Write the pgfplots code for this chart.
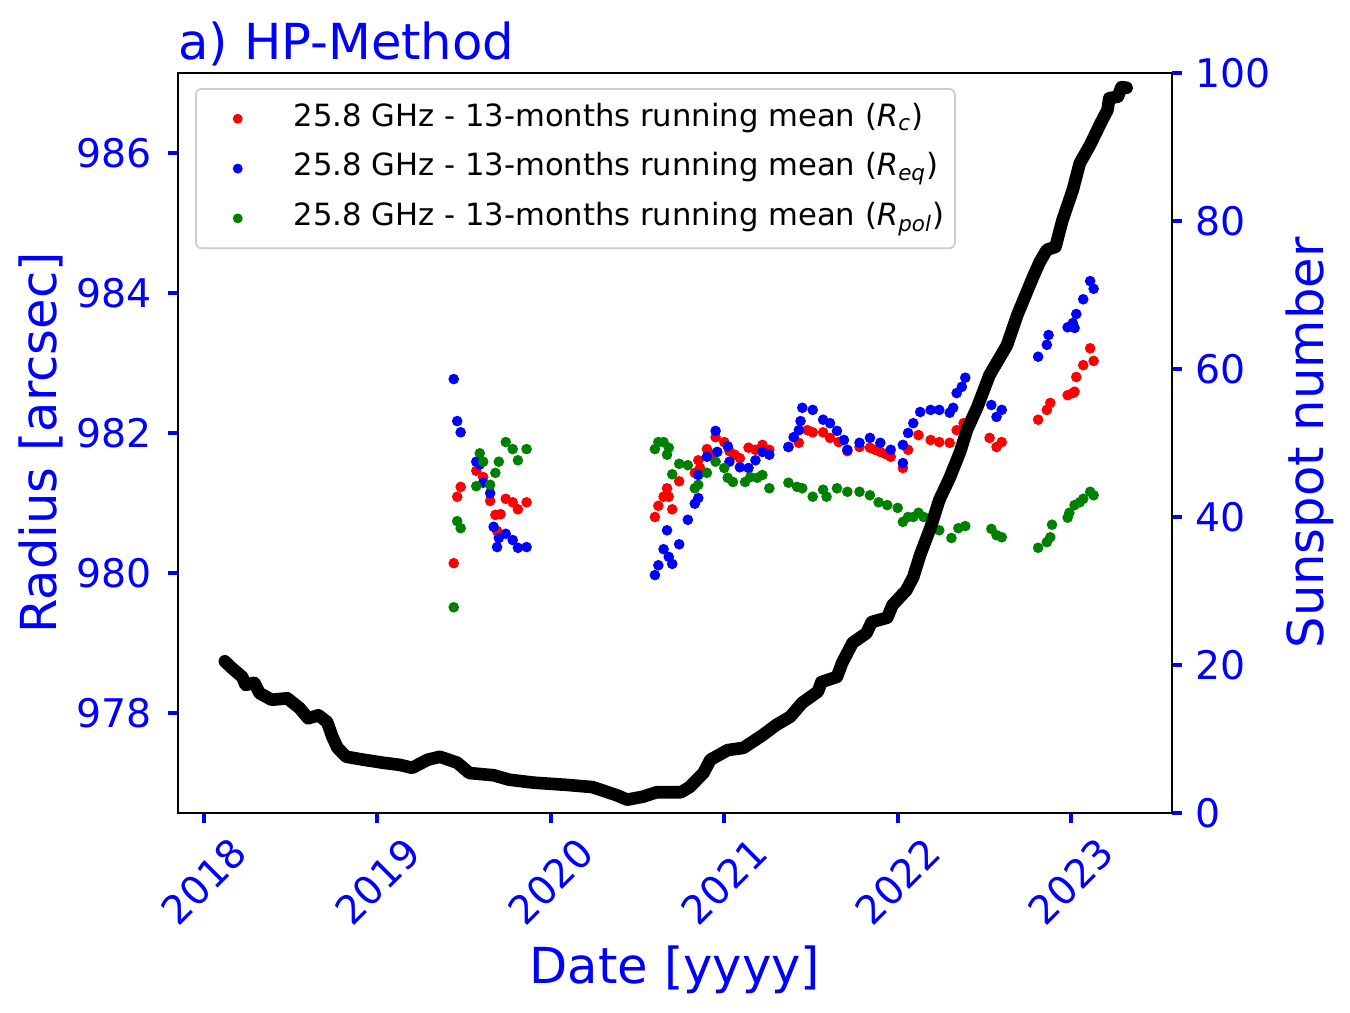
\documentclass[border=0pt]{standalone}
\usepackage{fontspec}
\setmainfont{DejaVu Sans}
\usepackage{pgfplots}
\pgfplotsset{compat=1.18}
\definecolor{mgreen}{HTML}{008000}
\definecolor{mred}{HTML}{FF0000}
\definecolor{mblue}{HTML}{0000FF}
\begin{document}
\begin{tikzpicture}
\pgfplotsset{
  common/.style={
    width=339.29bp, height=252.59bp, scale only axis,
    xmin=2017.85, xmax=2023.582,
    tick align=outside,
    major tick length=3.4bp,
    every tick/.style={mblue, line width=1.4bp},
    ticklabel style={text=mblue, font=\fontsize{13.5}{16}\selectfont},
    /pgf/number format/assume math mode=true,
    axis line style={line width=0.9bp, black},
    label style={text=mblue, font=\fontsize{17}{20}\selectfont},
  }
}
\begin{axis}[common, name=ax,
  ymin=976.571, ymax=987.143,
  xtick={2018,2019,2020,2021,2022,2023},
  xticklabels={2018,2019,2020,2021,2022,2023},
  ytick={978,980,982,984,986},
  xtick pos=bottom, ytick pos=left,
  xticklabel style={yshift=-20bp, rotate=45, anchor=center},
  yticklabel style={anchor=east, inner sep=0pt, xshift=-5.5bp},
  xlabel={Date [yyyy]},
  ylabel={Radius [arcsec]},
  xlabel style={at={(axis description cs:0.5,-0.245)}, anchor=south, inner sep=0pt},
  ylabel style={at={(axis description cs:-0.1147,0.5)}, anchor=south, inner sep=0pt},
  title={a) HP-Method},
  title style={at={(axis description cs:0,0.9945)}, anchor=base west, inner sep=0pt, text=mblue, font=\fontsize{17}{20}\selectfont},
  legend style={at={(axis description cs:0.0171,0.9797)}, anchor=north west,
    draw=black!20, line width=0.6bp, rounded corners=2bp, fill=white,
    font=\fontsize{10.5}{12}\selectfont, text=black,
    inner xsep=3.6bp, inner ysep=5.2bp, row sep=7bp, column sep=5.4bp,
    nodes={inner sep=0pt, text height=7.5bp, text depth=2.5bp, anchor=west}},
  legend cell align=left,
]
\addplot[mred, only marks, mark=*, mark size=1.6bp, mark options={solid, fill=mred, draw=mred},
  legend image code/.code={\path[draw=none, fill=none] (0,-2bp) rectangle (24.4bp,2bp); \fill[mred] (10.7bp,0) circle (1.37bp);}]
coordinates {
(2019.44,980.14) (2019.46,981.09) (2019.48,981.23) (2019.57,981.46) (2019.61,981.37)
(2019.65,981.03) (2019.68,980.83) (2019.71,980.84) (2019.69,980.60) (2019.74,981.06)
(2019.78,981.01) (2019.81,980.91) (2019.86,981.01)
(2020.60,980.80) (2020.62,980.96) (2020.65,981.09) (2020.67,981.21) (2020.68,981.09)
(2020.70,980.91) (2020.74,981.31) (2020.83,981.43) (2020.85,981.61) (2020.86,981.50)
(2020.90,981.77) (2020.93,981.69) (2020.95,981.94) (2021.00,981.87) (2021.03,981.74)
(2021.06,981.69) (2021.09,981.64) (2021.14,981.79) (2021.18,981.76) (2021.22,981.83)
(2021.26,981.76)
(2021.37,981.80) (2021.43,981.86) (2021.48,982.04) (2021.51,982.01) (2021.57,982.01)
(2021.61,981.93) (2021.66,981.87) (2021.71,981.74) (2021.78,981.80) (2021.84,981.79)
(2021.87,981.76) (2021.90,981.73) (2021.93,981.70) (2021.96,981.66) (2022.03,981.50)
(2022.06,981.76) (2022.12,981.97) (2022.19,981.90) (2022.24,981.87) (2022.30,981.86)
(2022.34,982.04) (2022.38,982.14)
(2022.53,981.93) (2022.57,981.80) (2022.60,981.87)
(2022.81,982.19) (2022.86,982.33) (2022.88,982.43)
(2022.98,982.54) (2023.01,982.57) (2023.02,982.59) (2023.03,982.80) (2023.07,982.97)
(2023.11,983.21) (2023.13,983.03)
};
\addlegendentry{25.8 GHz - 13-months running mean (\textit{R}\textsubscript{\textit{c}})}
\addplot[mblue, only marks, mark=*, mark size=1.6bp, mark options={solid, fill=mblue, draw=mblue},
  legend image code/.code={\path[draw=none, fill=none] (0,-2bp) rectangle (24.4bp,2bp); \fill[mblue] (10.7bp,0) circle (1.37bp);}]
coordinates {
(2019.44,982.77) (2019.46,982.17) (2019.48,982.01) (2019.57,981.59) (2019.59,981.55)
(2019.61,981.29) (2019.65,981.14) (2019.67,980.66) (2019.69,980.37) (2019.70,980.50)
(2019.74,980.56) (2019.78,980.47) (2019.81,980.36) (2019.86,980.37)
(2020.60,979.97) (2020.62,980.11) (2020.65,980.34) (2020.68,980.23) (2020.70,980.13)
(2020.67,980.61) (2020.74,980.41) (2020.79,980.76) (2020.83,980.99) (2020.85,981.07)
(2020.85,981.40) (2020.90,981.66) (2020.95,982.03) (2020.96,981.73) (2021.02,981.81)
(2021.03,981.59) (2021.09,981.51) (2021.14,981.50) (2021.18,981.61) (2021.22,981.73)
(2021.26,981.69)
(2021.37,981.80) (2021.40,981.94) (2021.43,982.04) (2021.44,982.17) (2021.45,982.36)
(2021.51,982.33) (2021.57,982.19) (2021.61,982.14) (2021.65,982.03) (2021.69,981.90)
(2021.71,981.76) (2021.78,981.86) (2021.84,981.93) (2021.90,981.86) (2021.96,981.76)
(2022.03,981.57) (2022.03,981.83) (2022.06,982.00) (2022.09,982.14) (2022.13,982.30)
(2022.19,982.33) (2022.24,982.33) (2022.30,982.29) (2022.32,982.36) (2022.34,982.57)
(2022.37,982.66) (2022.39,982.79)
(2022.54,982.40) (2022.57,982.23) (2022.60,982.33)
(2022.81,983.09) (2022.86,983.26) (2022.87,983.40)
(2022.98,983.51) (2023.01,983.57) (2023.02,983.50) (2023.03,983.70) (2023.07,983.91)
(2023.11,984.17) (2023.13,984.06)
};
\addlegendentry{25.8 GHz - 13-months running mean (\textit{R}\textsubscript{\textit{eq}})}
\addplot[mgreen, only marks, mark=*, mark size=1.6bp, mark options={solid, fill=mgreen, draw=mgreen},
  legend image code/.code={\path[draw=none, fill=none] (0,-2bp) rectangle (24.4bp,2bp); \fill[mgreen] (10.7bp,0) circle (1.37bp);}]
coordinates {
(2019.44,979.51) (2019.46,980.74) (2019.48,980.64) (2019.59,981.71) (2019.61,981.59)
(2019.57,981.24) (2019.65,981.26) (2019.68,981.43) (2019.70,981.59) (2019.74,981.87)
(2019.78,981.77) (2019.81,981.61) (2019.86,981.77)
(2020.60,981.77) (2020.62,981.87) (2020.65,981.87) (2020.67,981.69) (2020.68,981.79)
(2020.70,981.41) (2020.74,981.56) (2020.79,981.54) (2020.83,981.21) (2020.85,981.26)
(2020.90,981.43) (2020.95,981.59) (2021.00,981.50) (2021.02,981.36) (2021.05,981.30)
(2021.12,981.30) (2021.15,981.37) (2021.19,981.36) (2021.22,981.40) (2021.26,981.21)
(2021.37,981.29) (2021.42,981.23) (2021.45,981.21) (2021.51,981.09) (2021.57,981.19)
(2021.59,981.09) (2021.65,981.21) (2021.71,981.16) (2021.78,981.16) (2021.84,981.11)
(2021.89,981.01) (2021.94,980.97) (2022.00,980.93) (2022.03,980.73) (2022.06,980.80)
(2022.09,980.80) (2022.12,980.86) (2022.15,980.80) (2022.19,980.69) (2022.24,980.61)
(2022.31,980.50) (2022.35,980.64) (2022.39,980.67)
(2022.54,980.63) (2022.57,980.54) (2022.60,980.51)
(2022.81,980.36) (2022.86,980.44) (2022.88,980.51) (2022.89,980.69)
(2022.98,980.79) (2022.99,980.86) (2023.02,980.97) (2023.05,981.01) (2023.07,981.06)
(2023.11,981.16) (2023.13,981.11)
};
\addlegendentry{25.8 GHz - 13-months running mean (\textit{R}\textsubscript{\textit{pol}})}
\end{axis}
\begin{axis}[common,
  ymin=0, ymax=100,
  axis y line*=right, axis x line=none, xtick=\empty,
  ytick={0,20,40,60,80,100},
  ytick pos=right, yticklabel pos=right,
  yticklabel style={anchor=west, inner sep=0pt, xshift=4.4bp},
  ylabel={Sunspot number},
  ylabel style={at={(axis description cs:1.1137,0.5)}, anchor=north, inner sep=0pt},
]
\addplot[black, line width=4.3bp, line join=round, line cap=round] coordinates {
(2018.12,20.5) (2018.16,19.6) (2018.22,18.4) (2018.24,17.3) (2018.29,17.6) (2018.32,16.2)
(2018.39,15.3) (2018.48,15.5) (2018.55,14.2) (2018.60,12.8) (2018.66,13.2) (2018.71,12.3)
(2018.74,10.3) (2018.77,8.8) (2018.82,7.6) (2018.92,7.2) (2019.03,6.8) (2019.13,6.5)
(2019.20,6.1) (2019.29,7.2) (2019.36,7.6) (2019.46,6.8) (2019.53,5.4) (2019.67,5.1)
(2019.76,4.5) (2019.90,4.1) (2020.09,3.8) (2020.24,3.5) (2020.38,2.4) (2020.44,1.8)
(2020.53,2.2) (2020.61,2.8) (2020.75,2.8) (2020.80,3.5) (2020.88,5.4) (2020.92,7.2)
(2021.02,8.5) (2021.11,8.8) (2021.22,10.5) (2021.30,11.9) (2021.38,13.0) (2021.45,14.9)
(2021.54,16.4) (2021.56,17.7) (2021.65,18.4) (2021.68,20.3) (2021.74,23.0) (2021.82,24.3)
(2021.85,25.8) (2021.94,26.4) (2021.97,28.1) (2022.05,30.1) (2022.09,31.9) (2022.13,34.9)
(2022.19,38.6) (2022.24,42.3) (2022.30,45.3) (2022.36,48.8) (2022.40,51.8) (2022.46,54.9)
(2022.53,59.2) (2022.57,60.8) (2022.63,63.2) (2022.69,67.3) (2022.75,70.7) (2022.78,72.4)
(2022.82,74.5) (2022.86,76.1) (2022.91,76.5) (2022.95,80.1) (2023.01,84.2) (2023.05,87.8)
(2023.11,90.3) (2023.17,93.2) (2023.21,95.0) (2023.22,96.6) (2023.27,96.8) (2023.29,98.1)
(2023.32,98.0)
};
\end{axis}
\pgfresetboundingbox
\path ([shift={(-60.76bp,-67.93bp)}]ax.south west) rectangle ([shift={(60.76bp,24.92bp)}]ax.north east);
\end{tikzpicture}
\end{document}
